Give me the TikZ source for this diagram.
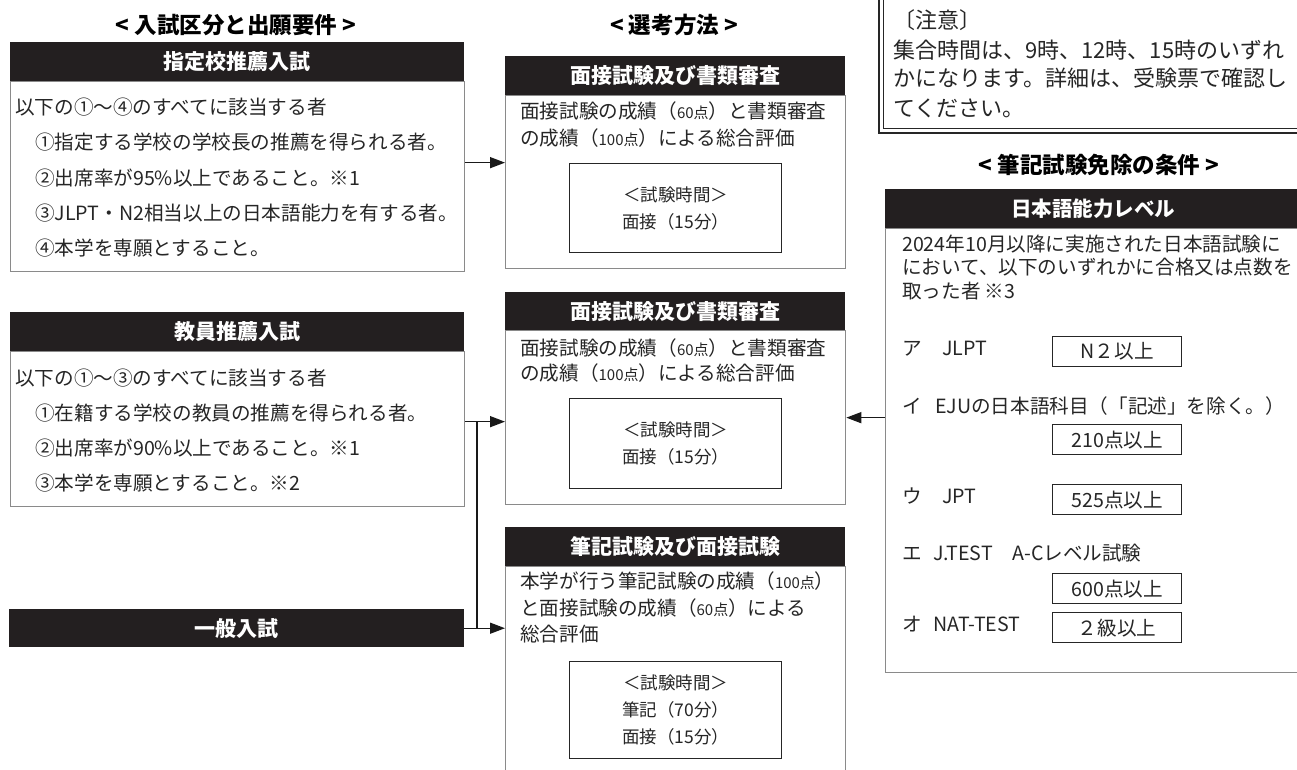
\documentclass[tikz,border=0pt]{standalone}
\usepackage{fontspec}
\setmainfont{Noto Sans CJK JP}
\usetikzlibrary{arrows.meta}
\definecolor{barblack}{HTML}{231F20}
\definecolor{framegray}{HTML}{8A8A8A}
\newcommand{\bodyfnt}{\fontsize{19.6}{24}\selectfont}
\newcommand{\smallpt}[1]{{\fontsize{15}{18}\selectfont #1}}

\begin{document}
\begin{tikzpicture}[x=1pt, y=-1pt, line join=miter, >={Triangle[length=15pt,width=11pt]},
  hdbar/.style={anchor=north west, fill=barblack, text=white, inner sep=0pt, minimum height=39pt, font=\fontsize{21}{25}\selectfont\bfseries},
  bodybox/.style={anchor=north west, draw=framegray, line width=1.3pt, inner sep=0pt},
  tbox/.style={anchor=north west, draw=black!85, line width=1.2pt, inner sep=0pt, align=center, minimum width=212pt, text=black!85, font=\fontsize{17.5}{27}\selectfont},
  vbox/.style={anchor=north west, draw=black!85, line width=1.2pt, inner sep=0pt, minimum width=129pt, minimum height=30pt, text=black!85, font=\bodyfnt},
  txtrow/.style={anchor=west, inner sep=0pt, text height=.88em, text depth=.12em, text=black!85, font=\bodyfnt},
  ttl/.style={inner sep=0pt, font=\fontsize{22.5}{27}\selectfont\bfseries},
  conn/.style={line width=1.4pt, draw=black!90}]
\useasboundingbox (0,0) rectangle (1297,769);
\fill[white] (0,0) rectangle (1297,769);
\clip (0,0) rectangle (1297,769);

\node[ttl] (t1) at (236,25) {< 入試区分と出願要件 >};
\node[ttl] (t2) at (674,25) {< 選考方法 >};
\node[ttl] (t3) at (1099,165) {< 筆記試験免除の条件 >};

% left column
\node[bodybox, minimum width=454pt, minimum height=190pt] (b1) at (10,81) {};
\node[hdbar, minimum width=454pt] (h1) at (10,42) {指定校推薦入試};
\foreach \yy/\xx/\tx [count=\i] in {111/15/以下の①～④のすべてに該当する者, 146/35/①指定する学校の学校長の推薦を得られる者。, 182/35/②出席率が95\%以上であること。※1, 217/35/③JLPT・N2相当以上の日本語能力を有する者。, 252/35/④本学を専願とすること。}
  \node[txtrow] (a\i) at (\xx,\yy) {\tx};

\node[bodybox, minimum width=454pt, minimum height=155pt] (b2) at (10,351) {};
\node[hdbar, minimum width=454pt] (h2) at (10,312) {教員推薦入試};
\foreach \yy/\xx/\tx [count=\i] in {382/15/以下の①～③のすべてに該当する者, 417/35/①在籍する学校の教員の推薦を得られる者。, 452/35/②出席率が90\%以上であること。※1, 487/35/③本学を専願とすること。※2}
  \node[txtrow] (c\i) at (\xx,\yy) {\tx};

\node[hdbar, minimum width=455pt, minimum height=38pt] (h3) at (9,609) {一般入試};

% middle column
\node[bodybox, minimum width=340pt, minimum height=173pt] (m1b) at (505,95) {};
\node[hdbar, minimum width=340pt] (m1h) at (505,56) {面接試験及び書類審査};
\node[txtrow] (m1x) at (520,115) {面接試験の成績（\smallpt{60点}）と書類審査};
\node[txtrow] (m1y) at (520,142) {の成績（\smallpt{100点}）による総合評価};
\node[tbox, minimum height=89pt] (m1t) at (569,163) {＜試験時間＞\\面接（15分）};

\node[bodybox, minimum width=340pt, minimum height=174pt] (m2b) at (505,330) {};
\node[hdbar, minimum width=340pt, minimum height=38pt] (m2h) at (505,292) {面接試験及び書類審査};
\node[txtrow] (m2x) at (520,352) {面接試験の成績（\smallpt{60点}）と書類審査};
\node[txtrow] (m2y) at (520,377) {の成績（\smallpt{100点}）による総合評価};
\node[tbox, minimum height=90pt] (m2t) at (569,398) {＜試験時間＞\\面接（15分）};

\node[bodybox, minimum width=340pt, minimum height=260pt] (m3b) at (505,566) {};
\node[hdbar, minimum width=340pt] (m3h) at (505,527) {筆記試験及び面接試験};
\node[txtrow] (m3x) at (520,585) {本学が行う筆記試験の成績（\smallpt{100点}）};
\node[txtrow] (m3y) at (520,612) {と面接試験の成績（\smallpt{60点}）による};
\node[txtrow] (m3z) at (520,638) {総合評価};
\node[tbox, minimum height=97pt] (m3t) at (569,661) {＜試験時間＞\\筆記（70分）\\面接（15分）};

% right column
\draw[line width=2pt, black!85] (879,-20) rectangle (1330,133);
\draw[line width=0.9pt, black!85] (883.5,-20) rectangle (1330,128.5);
\foreach \yy/\tx [count=\i] in {25/〔注意〕, 55/集合時間は、9時、12時、15時のいずれ, 83/かになります。詳細は、受験票で確認し, 113/てください。}
  \node[txtrow, font=\fontsize{22}{26}\selectfont] (n\i) at (893,\yy) {\tx};

\node[bodybox, minimum width=416pt, minimum height=444pt] (rb) at (885,228) {};
\node[hdbar, minimum width=416pt, font=\fontsize{20.5}{25}\selectfont\bfseries] (rh) at (885,189) {日本語能力レベル};
\foreach \yy/\tx [count=\i] in {248/2024年10月以降に実施された日本語試験に, 271/において、以下のいずれかに合格又は点数を, 295/取った者 ※3}
  \node[txtrow] (r\i) at (902,\yy) {\tx};
\foreach \yy/\lb/\xx/\tx [count=\i] in {352/ア/942/JLPT, 410/イ/935/EJUの日本語科目（「記述」を除く。）, 500/ウ/942/JPT, 557/エ/933/J.TEST　A-Cレベル試験, 628/オ/933/NAT-TEST}
  {\node[txtrow] (k\i) at (902,\yy) {\lb};
   \node[txtrow] (e\i) at (\xx,\yy) {\tx};}
\foreach \yy/\tx [count=\i] in {336/N２以上, 424/210点以上, 484/525点以上, 573/600点以上, 612/２級以上}
  \node[vbox] (v\i) at (1052,\yy) {\tx};

% connectors
\coordinate (jx) at (477,0);
\coordinate (o1) at ([yshift=14pt]b1.east);
\coordinate (o2) at ([yshift=7.5pt]b2.east);
\coordinate (o3) at ([yshift=33pt]rb.west);
\draw[conn,->] (o1) -- (o1 -| m1b.west);
\draw[conn,->] (o2) -- (o2 -| m2b.west);
\draw[conn,->] (h3.east) -- (h3.east -| m3b.west);
\draw[conn] (o2 -| jx) -- (h3.east -| jx);
\draw[conn,->] (o3) -- (o3 -| m2b.east);
\end{tikzpicture}
\end{document}
